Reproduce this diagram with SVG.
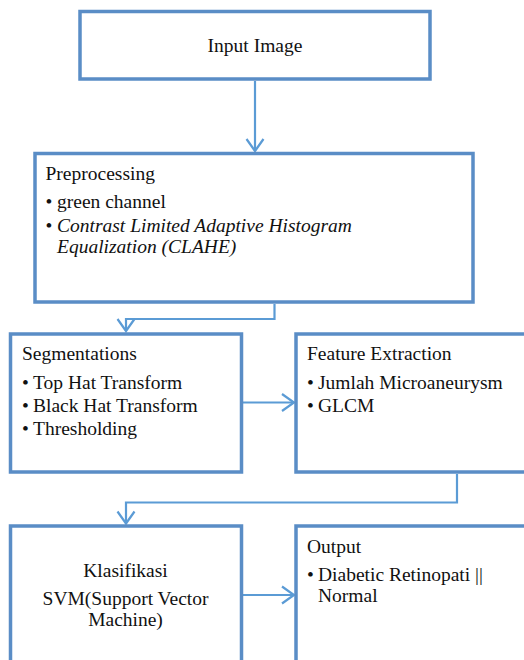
<svg xmlns="http://www.w3.org/2000/svg" width="524" height="660" viewBox="0 0 524 660">
<defs>
<style>
.box{fill:#fff;stroke:#5a8dc6;stroke-width:3.5}
.conn{fill:none;stroke:#5b9bd5;stroke-width:2.2}
.t text{font-size:19.5px;fill:#111}
.it{font-style:italic}
.c{text-anchor:middle}
</style>
<marker id="arr" markerUnits="userSpaceOnUse" markerWidth="20" markerHeight="20" refX="0" refY="0" viewBox="-14 -10 16 20" orient="auto" overflow="visible">
<path d="M -12 -8.5 L 0 0 L -12 8.5" fill="none" stroke="#5b9bd5" stroke-width="2.2"/>
</marker>
</defs>
<rect width="524" height="660" fill="#fff"/>
<g id="connectors">
<path class="conn" d="M 255 81 L 255 151" marker-end="url(#arr)"/>
<path class="conn" d="M 274.5 304 L 274.5 319 L 126 319 L 126 331" marker-end="url(#arr)"/>
<path class="conn" d="M 243 402.5 L 294 402.5" marker-end="url(#arr)"/>
<path class="conn" d="M 457 474 L 457 502.5 L 126 502.5 L 126 523.5" marker-end="url(#arr)"/>
<path class="conn" d="M 243 595 L 294 595" marker-end="url(#arr)"/>
</g>
<g class="t" font-family="Liberation Serif, Times New Roman, DejaVu Serif, serif">
<g id="input">
<rect class="box" x="80" y="11.5" width="350" height="67.5"/>
<text class="c" x="255" y="51.5">Input Image</text>
</g>
<g id="preprocessing">
<rect class="box" x="35" y="153.5" width="438" height="148.5"/>
<text x="45.5" y="180">Preprocessing</text>
<text x="45.5" y="208">•</text><text x="57" y="208">green channel</text>
<text x="45.5" y="231.5">•</text><text class="it" x="57" y="231.5">Contrast Limited Adaptive Histogram</text>
<text class="it" x="57" y="252.5">Equalization (CLAHE)</text>
</g>
<g id="segmentations">
<rect class="box" x="10.5" y="334" width="231" height="138"/>
<text x="22" y="359.5">Segmentations</text>
<text x="22" y="388.5">•</text><text x="33" y="388.5">Top Hat Transform</text>
<text x="22" y="411.5">•</text><text x="33" y="411.5">Black Hat Transform</text>
<text x="22" y="435">•</text><text x="33" y="435">Thresholding</text>
</g>
<g id="feature">
<rect class="box" x="296" y="334" width="240" height="138"/>
<text x="307" y="359.5">Feature Extraction</text>
<text x="307" y="388.5">•</text><text x="318" y="388.5">Jumlah Microaneurysm</text>
<text x="307" y="411.5">•</text><text x="318" y="411.5">GLCM</text>
</g>
<g id="klasifikasi">
<rect class="box" x="10.5" y="526" width="231" height="150"/>
<text class="c" x="125.5" y="577">Klasifikasi</text>
<text class="c" x="125.5" y="605">SVM(Support Vector</text>
<text class="c" x="125.5" y="626">Machine)</text>
</g>
<g id="output">
<rect class="box" x="296" y="526" width="240" height="150"/>
<text x="307" y="553">Output</text>
<text x="307" y="581">•</text><text x="318" y="581">Diabetic Retinopati ||</text>
<text x="318" y="602">Normal</text>
</g>
</g>
</svg>
